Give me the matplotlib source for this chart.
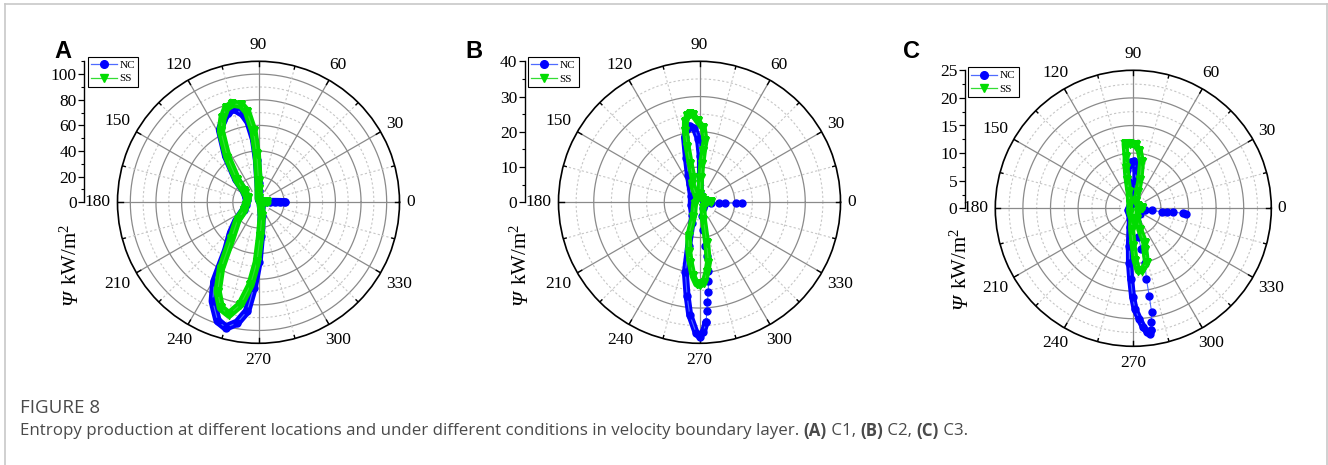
import numpy as np
import matplotlib.pyplot as plt
from matplotlib.lines import Line2D
from matplotlib.ticker import MultipleLocator

plt.rcParams['font.family'] = 'Liberation Serif'
plt.rcParams['mathtext.fontset'] = 'custom'
plt.rcParams['mathtext.rm'] = 'Liberation Serif'
plt.rcParams['mathtext.it'] = 'Liberation Serif:italic'

W, H = 1328, 465

# ---------------- data (theta in deg, r in kW/m^2) ----------------
# (A) C1
a_nc_theta = [0, 0.5, 1, 1.5, 3, 20, 50, 80, 86, 88, 90, 92, 94, 97, 100, 104.7, 109, 113, 118,
              125, 134, 141, 155, 170, 190, 208, 220, 228, 236, 240.9, 245.2, 251, 255.4, 260,
              264, 266.7, 270, 273.9, 283, 300, 330, 355]
a_nc_r = [21, 17, 13, 9, 5, 2, 1.5, 2, 4, 9, 15, 33, 49, 63, 70, 75.6, 74, 70, 64,
          44, 25, 15, 10.5, 9, 10, 13, 22.5, 32, 45, 70.9, 85.1, 97.9, 101, 95.3,
          85.4, 67.2, 46.7, 26.4, 11, 4, 2, 2]
a_ss_theta = [0, 2, 20, 60, 86, 89, 90, 92, 94, 97.2, 100, 104.8, 109, 113.2, 117.9, 124.7, 134,
              141, 146, 158, 170, 190, 208.6, 220, 233.6, 240.5, 245.4, 250.4, 255.3, 260,
              264.4, 268.4, 272.8, 283, 300, 330, 360]
a_ss_r = [7, 3, 1.5, 1.5, 3, 10, 17, 37.5, 55.5, 71.2, 77, 79.7, 77.5, 71.3, 62.6, 42.5, 23.8,
          14.5, 12.3, 9, 8.8, 10, 12.8, 21.3, 36, 59.5, 76.6, 87.5, 90.5, 81,
          64.9, 46.7, 26.3, 11.3, 4, 2, 2]

# (B) C2
b_nc_theta = [5, 40, 80, 86, 88, 89, 91, 94, 97.4, 100, 103, 106.4, 112, 118, 140, 200, 240,
              250, 256, 258.6, 262.4, 265, 268.6, 270, 271.7, 273.2]
b_nc_r = [1.5, 1.2, 1.5, 3, 8, 13, 18, 21, 21.9, 21, 18.9, 13.2, 8.5, 5.9, 3, 2.5, 4,
          6.3, 12.8, 20.3, 26.7, 32, 37.2, 38.1, 36.8, 34]
b_nc_tail_theta = [273.2, 273.8, 274.5, 275.6, 276.5, 277.4, 277.5, 277.5, 277, 280, 300, 330,
                   356, 357, 358, 358.4, 358.6, 358.8]
b_nc_tail_r = [34, 31, 28.4, 25.6, 22.4, 19.6, 15.5, 12.4, 7.8, 4, 2, 1.5,
               1.5, 3.3, 5.6, 7.3, 10.3, 12.1]
b_ss_theta = [0, 10, 60, 86, 87.5, 86.6, 85.6, 84.8, 87, 91.4, 94, 96, 98, 100, 101.2, 102.5,
              103.5, 105, 112, 120, 200, 247, 252.2, 258, 261.3, 265, 268, 270, 273, 276,
              278.4, 280, 282.8, 300, 340, 360]
b_ss_r = [3.3, 1.5, 1.5, 2.5, 7, 11, 14.7, 17.5, 21, 23.1, 24.8, 25.1, 24.8, 23, 20.7, 16,
          11.2, 7, 5.7, 1.5, 1.5, 4.4, 10.1, 14.5, 17.3, 21, 23.2, 23.6, 23, 20,
          17.3, 11.7, 5.1, 2, 1.5, 2]

# (C) C3
c_nc_theta = [5, 60, 84, 85, 86, 88.8, 93, 97, 99.9, 101, 100, 120, 200, 255, 260, 264, 266,
              267.9, 269.5, 271, 273, 274.8, 276.5, 277.5, 278.5]
c_nc_r = [1, 1, 2.5, 5, 6.9, 8.6, 8.4, 7.8, 7, 5, 2.5, 1, 1, 2, 3.5, 6.9, 10,
          12.9, 16, 18.3, 20, 21.6, 22.6, 23, 22.3]
c_nc_tail_theta = [278.5, 279, 280, 280.3, 280.5, 282, 281, 280, 285, 320, 353, 354, 353.5, 353,
                   353.5, 355, 354, 354.3]
c_nc_tail_r = [22.3, 20.9, 19, 16.1, 13.1, 10.1, 7.5, 5.2, 2.5, 1.5, 1.5, 2.2, 3.4, 5.2,
               6.2, 7.3, 9.0, 9.6]
c_ss_theta = [0, 30, 70, 75, 76.8, 79.9, 84, 87.6, 92.9, 97.3, 98, 100, 102, 105, 130, 230, 262,
              265.6, 270, 272, 274.5, 278, 283.6, 285.6, 288.4, 287, 292, 330, 360]
c_ss_r = [1.6, 1, 1.5, 3, 5.2, 8.5, 10.5, 11.4, 11.7, 11.8, 9.4, 7.5, 5.2, 3, 1, 1, 2,
          3.9, 6.9, 9.5, 11.4, 11.4, 10.2, 7.8, 6.6, 4.1, 2, 1, 1.6]

angle_ticks = list(range(0, 360, 30))
series_names = ['NC', 'SS']

BLUE, BLUE_LINE = '#0000ff', '#4f6bff'
GREEN, GREEN_LINE = '#00dc00', '#33dd33'

fig = plt.figure(figsize=(W / 100, H / 100), dpi=100)


def px(x, y):
    return x / W, 1 - y / H


def polar_panel(cx, cy, R, rmax, rmajor, rminor, nc, ss, nc_tail, letter, letter_x, rx,
                lab_xy, leg_xy, band=5.0):
    ax = fig.add_axes([(cx - R) / W, (H - cy - R) / H, 2 * R / W, 2 * R / H], projection='polar')
    ax.set_ylim(0, rmax)
    ax.set_xticks([])
    ax.set_yticks([])
    ax.grid(False)
    ax.spines['polar'].set_color('black')
    ax.spines['polar'].set_linewidth(1.2)

    th = np.linspace(0, 2 * np.pi, 721)
    # grid circles
    for r in np.arange(rminor, rmax - 1e-9, rminor):
        if abs(r / rmajor - round(r / rmajor)) < 1e-6:
            ax.plot(th, np.full_like(th, r), color='#8a8a8a', lw=0.9, zorder=1)
        else:
            ax.plot(th, np.full_like(th, r), color='#c6c6c6', lw=0.8, ls=(0, (2, 2)), zorder=1)
    # spokes
    for a in range(0, 360, 15):
        t = np.radians(a)
        if a % 30 == 0:
            ax.plot([t, t], [rminor, rmax], color='#8a8a8a', lw=0.9, zorder=1)
        else:
            ax.plot([t, t], [2 * rminor, rmax], color='#c6c6c6', lw=0.8, ls=(0, (2, 2)), zorder=1)
        L = 5 if a % 30 == 0 else 3
        ax.plot([t, t], [rmax * (1 - L / R), rmax], color='black', lw=1.0, zorder=2)

    # angular labels
    for a in angle_ticks:
        t = np.radians(a)
        lbl = str(a)
        hw, hh = len(lbl) * 8.7 / 2, 10
        c, s = np.cos(t), np.sin(t)
        d = min(hw / abs(c) if abs(c) > 1e-6 else 1e9, hh / abs(s) if abs(s) > 1e-6 else 1e9) + 6.5
        ax.annotate(lbl, xy=(t, rmax), xytext=(d * c * 0.72, d * s * 0.72),
                    textcoords='offset points', ha='center', va='center', fontsize=12.5,
                    annotation_clip=False)

    # data: NC first, SS on top
    nt, nr = nc
    ax.plot(np.radians(nt), nr, color=BLUE, lw=band, solid_joinstyle='round',
            solid_capstyle='round', zorder=3)
    ax.plot(np.radians(nt), nr, color=BLUE_LINE, lw=0.8, marker='o', ms=5,
            mfc=BLUE, mec=BLUE, zorder=3)
    if nc_tail is not None:
        tt, tr = nc_tail
        ax.plot(np.radians(tt), tr, color=BLUE_LINE, lw=0.8, marker='o', ms=5,
                mfc=BLUE, mec=BLUE, zorder=3)
    st, sr = ss
    ax.plot(np.radians(st), sr, color=GREEN, lw=band, solid_joinstyle='round',
            solid_capstyle='round', zorder=4)
    ax.plot(np.radians(st), sr, color=GREEN_LINE, lw=0.8, marker='v', ms=5.5,
            mfc=GREEN, mec=GREEN, zorder=4)

    # radial axis on the left (Origin style)
    axr = fig.add_axes([rx / W, (H - cy) / H, 0.0001, R / H])
    axr.set_ylim(0, rmax)
    axr.set_xticks([])
    for sp in ['top', 'right', 'bottom']:
        axr.spines[sp].set_visible(False)
    axr.spines['left'].set_linewidth(1.0)
    axr.set_yticks(np.arange(0, rmax + 1e-9, rmajor))
    axr.yaxis.set_minor_locator(MultipleLocator(rmajor / 2))
    axr.tick_params(axis='y', which='major', direction='out', length=4, width=0.9,
                    labelsize=12.5, pad=1.5)
    axr.tick_params(axis='y', which='minor', direction='out', length=2.5, width=0.8)
    axr.patch.set_visible(False)

    # y title: italic Psi + unit, rotated, sharing one baseline
    bx, by = lab_xy
    fig.text(*px(bx, by), 'Ψ', rotation=90, rotation_mode='anchor', ha='right',
             va='baseline', fontsize=15, fontstyle='italic')
    fig.text(*px(bx, by), ' kW/m$^{2}$', rotation=90, rotation_mode='anchor', ha='left',
             va='baseline', fontsize=15)
    fig.text(*px(letter_x, 51), letter, fontsize=17, fontweight='bold',
             family='Liberation Sans', ha='center', va='center')

    handles = [Line2D([], [], color=BLUE_LINE, lw=0.9, marker='o', ms=5.5, mfc=BLUE, mec=BLUE),
               Line2D([], [], color=GREEN_LINE, lw=0.9, marker='v', ms=6, mfc=GREEN, mec=GREEN)]
    leg = fig.legend(handles, series_names, loc='upper left', bbox_to_anchor=px(*leg_xy),
                     fontsize=8, frameon=True, fancybox=False, edgecolor='black',
                     framealpha=1, borderpad=0.3, handlelength=2.3, handletextpad=0.25,
                     labelspacing=0.35, borderaxespad=0)
    leg.get_frame().set_linewidth(0.8)
    return ax


polar_panel(258.5, 202.3, 141, 110, 20, 10, (a_nc_theta, a_nc_r), (a_ss_theta, a_ss_r), None,
            'A', 62.5, 84.3, (76.5, 290), (87.7, 56.7), band=6.0)
polar_panel(699.5, 202.3, 141, 40, 10, 5, (b_nc_theta, b_nc_r), (b_ss_theta, b_ss_r),
            (b_nc_tail_theta, b_nc_tail_r), 'B', 473.5, 525, (526.5, 290), (528, 57))
polar_panel(1133.3, 208.3, 138, 25, 5, 2.5, (c_nc_theta, c_nc_r), (c_ss_theta, c_ss_r),
            (c_nc_tail_theta, c_nc_tail_r), 'C', 911.5, 965, (966.5, 294), (968, 67.3))

# frame
for xs, ys in [((4.5, 4.5), (465, 4.5)), ((4.5, 1326.5), (4.5, 4.5)), ((1326.5, 1326.5), (4.5, 465))]:
    fig.add_artist(Line2D([x / W for x in xs], [1 - y / H for y in ys], color='#c8c8c8', lw=1.2))

# caption
fig.text(*px(20, 408), 'FIGURE 8', fontsize=13.5, color='#4a4a4a', family='Open Sans',
         va='center', ha='left')
parts = [('Entropy production at different locations and under different conditions in '
          'velocity boundary layer. ', 'normal'), ('(A)', 'bold'), (' C1, ', 'normal'),
         ('(B)', 'bold'), (' C2, ', 'normal'), ('(C)', 'bold'), (' C3.', 'normal')]
fig.canvas.draw()
rend = fig.canvas.get_renderer()
x = 20
for s, w in parts:
    t = fig.text(*px(x, 431), s, fontsize=12.15, color='#4a4a4a', family='Open Sans',
                 fontweight=w, va='center', ha='left')
    x += t.get_window_extent(rend).width

fig.savefig('out.png', dpi=100)
